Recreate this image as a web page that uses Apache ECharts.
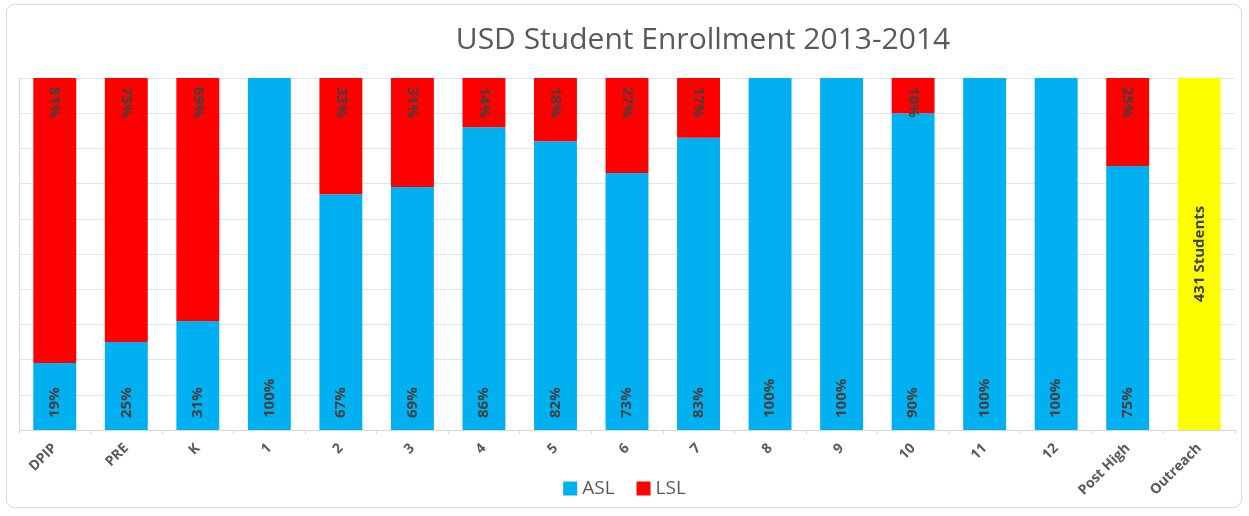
<!DOCTYPE html>
<html>
<head>
<meta charset="utf-8">
<script src="https://cdn.jsdelivr.net/npm/echarts@6/dist/echarts.min.js"></script>
<style>
  html, body { margin: 0; padding: 0; background: #fff; }
  #chart { width: 1249px; height: 516px; }
</style>
</head>
<body>
<div id="chart"></div>
<script>
// Grade levels along the x axis
const categories = ['DPIP', 'PRE', 'K', '1', '2', '3', '4', '5', '6', '7', '8', '9', '10', '11', '12', 'Post High', 'Outreach'];
// Share of students (%) per grade; Outreach has no split
const aslValues = [19, 25, 31, 100, 67, 69, 86, 82, 73, 83, 100, 100, 90, 100, 100, 75, null];
const lslValues = [81, 75, 69, null, 33, 31, 14, 18, 27, 17, null, null, 10, null, null, 25, null];
// Outreach is shown as a full bar with a headcount label
const outreachValues = [null, null, null, null, null, null, null, null, null, null, null, null, null, null, null, null, 100];
const outreachLabel = '431 Students';

const labelFont = { fontFamily: 'Open Sans', fontWeight: 'bold', fontSize: 15, color: '#404040' };

const chart = echarts.init(document.getElementById('chart'), null, { renderer: 'canvas' });
chart.setOption({
  backgroundColor: '#fff',
  animation: false,
  title: {
    text: 'USD Student Enrollment 2013-2014',
    left: 698,
    textAlign: 'center',
    top: 20,
    textStyle: { fontFamily: 'Open Sans', fontWeight: 'normal', fontSize: 30, color: '#595959' }
  },
  graphic: [{
    type: 'rect',
    shape: { x: 6.5, y: 4.5, width: 1235, height: 503, r: 8 },
    style: { fill: 'none', stroke: '#d9d9d9', lineWidth: 1 },
    silent: true
  }],
  legend: {
    data: ['ASL', 'LSL'],
    left: 'center',
    top: 474,
    icon: 'rect',
    itemWidth: 14,
    itemHeight: 14,
    itemGap: 22,
    textStyle: { fontFamily: 'Open Sans', fontSize: 19, color: '#595959' }
  },
  grid: { left: 19, right: 14, top: 78, bottom: 86, containLabel: false },
  xAxis: {
    type: 'category',
    data: categories,
    axisLine: { lineStyle: { color: '#d9d9d9' } },
    axisTick: { show: true, length: 4, lineStyle: { color: '#d9d9d9' } },
    axisLabel: {
      rotate: 45, interval: 0, margin: 16,
      fontFamily: 'Open Sans', fontWeight: 'bold', fontSize: 14, color: '#595959'
    }
  },
  yAxis: {
    type: 'value',
    min: 0, max: 100, interval: 10,
    axisLabel: { show: false },
    axisLine: { show: true, lineStyle: { color: '#d9d9d9' } },
    axisTick: { show: false },
    splitLine: { lineStyle: { color: '#e3e3e3' } }
  },
  series: [
    {
      name: 'ASL', type: 'bar', stack: 'total', barWidth: '60%',
      data: aslValues,
      itemStyle: { color: '#00b0f0' },
      label: {
        show: true, position: 'insideBottom', rotate: 90, align: 'left', verticalAlign: 'middle',
        distance: 12, formatter: '{c}%', ...labelFont
      }
    },
    {
      name: 'LSL', type: 'bar', stack: 'total',
      data: lslValues,
      itemStyle: { color: '#ff0000' },
      label: {
        show: true, position: 'insideTop', rotate: -90, align: 'left', verticalAlign: 'middle',
        distance: 9, formatter: '{c}%', ...labelFont
      }
    },
    {
      name: 'Outreach', type: 'bar', stack: 'total',
      data: outreachValues,
      itemStyle: { color: '#ffff00' },
      label: {
        show: true, position: 'inside', rotate: 90, align: 'center', verticalAlign: 'middle',
        formatter: outreachLabel, ...labelFont
      }
    }
  ]
});
</script>
</body>
</html>
